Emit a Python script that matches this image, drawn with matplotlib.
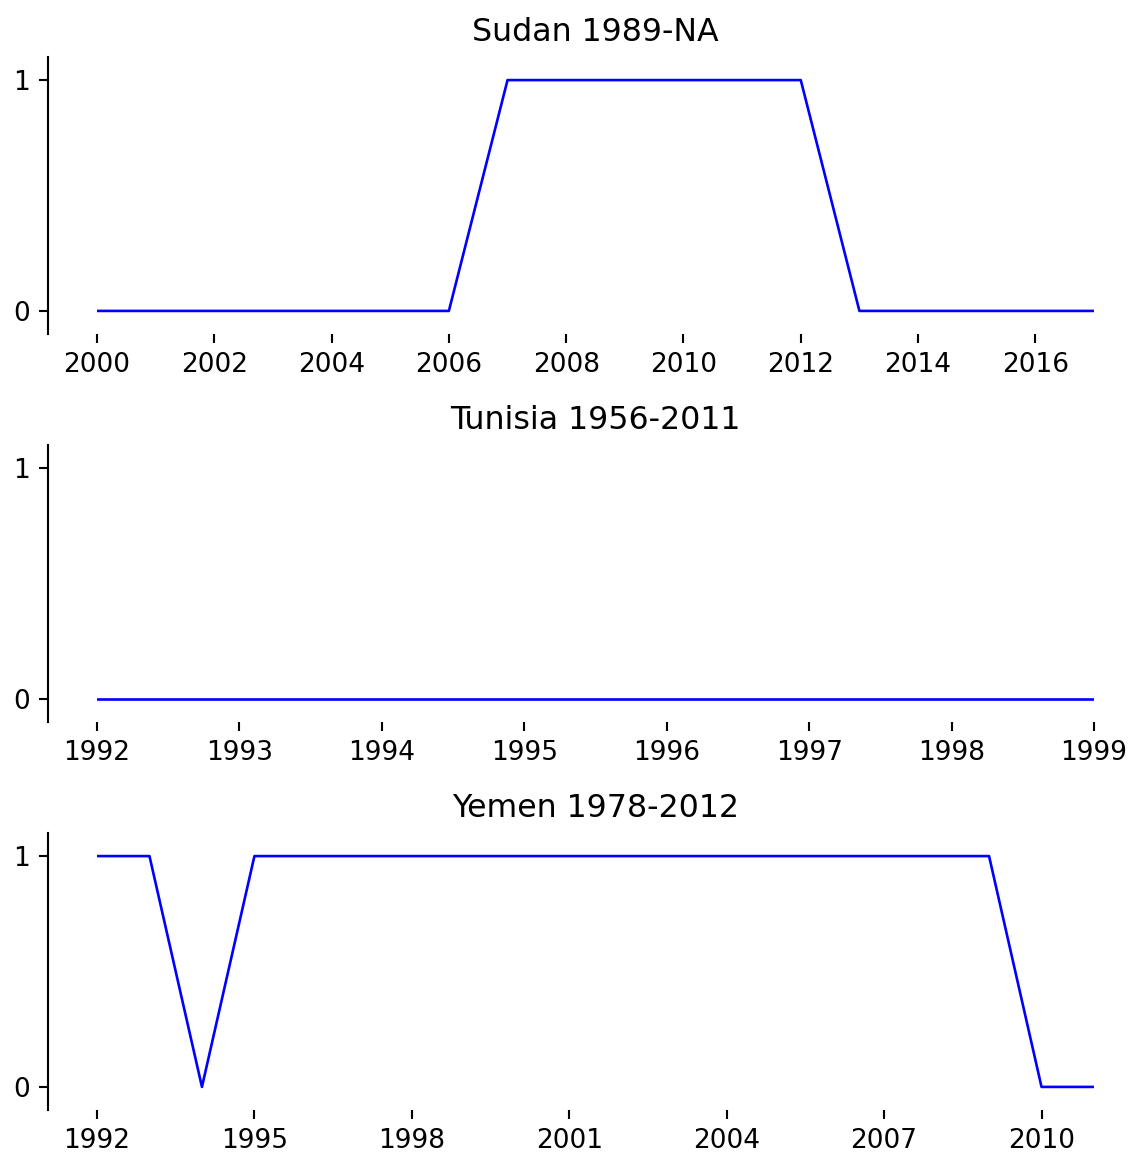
import numpy as np
import matplotlib
matplotlib.use("Agg")
import matplotlib.pyplot as plt

# Data
sudan_years = list(range(2000, 2018))
sudan_values = [0, 0, 0, 0, 0, 0, 0, 1, 1, 1, 1, 1, 1, 0, 0, 0, 0, 0]

tunisia_years = list(range(1992, 2000))
tunisia_values = [0, 0, 0, 0, 0, 0, 0, 0]

yemen_years = list(range(1992, 2012))
yemen_values = [1, 1, 0, 1, 1, 1, 1, 1, 1, 1, 1, 1, 1, 1, 1, 1, 1, 1, 0, 0]

titles = ["Sudan 1989-NA", "Tunisia 1956-2011", "Yemen 1978-2012"]
xtick_steps = [2, 1, 3]

W, H, DPI = 1131, 1156, 190
fig = plt.figure(figsize=(W / DPI, H / DPI), dpi=DPI)

left = 97 / W
width = (1094 - 97) / W
height = 277 / H
bottoms = [1 - 334 / H, 1 - 722 / H, 1 - 1110 / H]

series = [(sudan_years, sudan_values), (tunisia_years, tunisia_values), (yemen_years, yemen_values)]

for (years, values), title, step, bottom in zip(series, titles, xtick_steps, bottoms):
    ax = fig.add_axes([left, bottom, width, height])
    ax.plot(years, values, color="blue", linewidth=1)
    ax.set_xlim(years[0], years[-1])
    ax.set_ylim(-0.1, 1.1)
    ax.set_yticks([0, 1])
    ax.set_xticks(np.arange(years[0], years[-1] + 1, step))
    ax.set_title(title)
    ax.spines["top"].set_visible(False)
    ax.spines["right"].set_visible(False)
    ax.spines["bottom"].set_visible(False)
    ax.spines["left"].set_position(("outward", 49 / DPI * 72))

fig.savefig("out.png", dpi=DPI)
